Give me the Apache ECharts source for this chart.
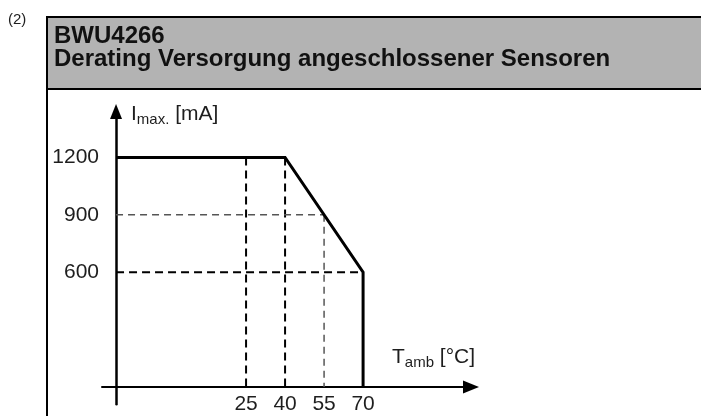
<!DOCTYPE html>
<html><head><meta charset="utf-8">
<script src="https://cdn.jsdelivr.net/npm/echarts@6/dist/echarts.min.js"></script>
<style>html,body{margin:0;padding:0;background:#fff}#c{width:701px;height:416px}</style>
</head><body><div id="c"></div>
<script>
// ---- data ----
const temps = [-25, 40, 70, 70];          // °C (y-axis sits at -25 °C)
const currents = [1200, 1200, 600, 0];    // mA
const xTicks = [25, 40, 55, 70];
const yTicks = [600, 900, 1200];
const guide25 = [[25, 1200], [25, 0]];
const guide40 = [[40, 1200], [40, 0]];
const guide55 = [[55, 900], [55, 0]];
const guide900 = [[-25, 900], [55, 900]];
const guide600 = [[-25, 600], [70, 600]];
const xOrigin = -25;
const xMin = -30.4, xMax = 111.5;
const yMin = -90, yMax = 1440;

const FONT = "'Liberation Sans', Arial, Helvetica, sans-serif";
const TXT = '#1e1e1e';

const chart = echarts.init(document.getElementById('c'), null, {renderer: 'canvas'});

function guide(data, color, width, dash) {
  return {
    type: 'line', data: data, symbol: 'none', silent: true, z: 2,
    lineStyle: {color: color, width: width, type: dash}
  };
}

chart.setOption({
  animation: false,
  backgroundColor: '#fff',
  grid: {left: 102, right: 230, top: 111.5, bottom: 11.75, containLabel: false, outerBoundsMode: 'none'},
  xAxis: [{
    type: 'value', min: xMin, max: xMax,
    axisLine: {show: true, onZero: true, symbol: ['none', 'triangle'], symbolSize: [13, 16],
      lineStyle: {color: '#000', width: 2}},
    axisTick: {show: false},
    splitLine: {show: false},
    axisLabel: {customValues: xTicks, margin: -11, fontSize: 21, color: TXT, fontFamily: FONT,
      formatter: v => String(v)}
  }, {
    type: 'value', min: xMin - xOrigin, max: xMax - xOrigin, show: false,
    axisLine: {onZero: false}, splitLine: {show: false}
  }],
  yAxis: {
    type: 'value', min: yMin, max: yMax,
    axisLine: {show: true, onZero: true, onZeroAxisIndex: 1, symbol: ['none', 'triangle'], symbolSize: [12, 15],
      lineStyle: {color: '#000', width: 2.5}},
    axisTick: {show: false},
    splitLine: {show: false},
    axisLabel: {customValues: yTicks, margin: 3, fontSize: 21, color: TXT, fontFamily: FONT,
      formatter: v => String(v)}
  },
  series: [
    guide(guide25, '#000', 2, [8, 5]),
    guide(guide40, '#000', 2, [8, 5]),
    guide(guide600, '#000', 2, [8, 5]),
    guide(guide900, '#555', 1.5, [7, 5]),
    guide(guide55, '#555', 1.5, [7, 5]),
    {
      type: 'line', data: temps.map((t, i) => [t, currents[i]]), symbol: 'none', z: 5,
      lineStyle: {color: '#000', width: 3, join: 'miter'}
    }
  ],
  graphic: [
    {type: 'rect', shape: {x: 47, y: 17, width: 700, height: 72},
      style: {fill: '#b3b3b3', stroke: '#000', lineWidth: 2}, z: 10},
    {type: 'line', shape: {x1: 47, y1: 17, x2: 47, y2: 420},
      style: {stroke: '#000', lineWidth: 2}, z: 10},
    {type: 'text', x: 8, y: 12, z: 11,
      style: {text: '(2)', font: '15px ' + FONT, fill: TXT}},
    {type: 'text', x: 54, y: 24.5, z: 11,
      style: {text: 'BWU4266\nDerating Versorgung angeschlossener Sensoren',
        font: 'bold 24px ' + FONT, lineHeight: 23.5, fill: '#111'}},
    {type: 'text', x: 131, y: 114, z: 11,
      style: {text: '{a|I}{s|max.}{a| [mA]}', verticalAlign: 'middle',
        rich: {a: {fontSize: 21, lineHeight: 27, fontFamily: FONT, fill: TXT},
               s: {fontSize: 15, lineHeight: 15, verticalAlign: 'bottom', fontFamily: FONT, fill: TXT}}}},
    {type: 'text', x: 392, y: 357, z: 11,
      style: {text: '{a|T}{s|amb}{a| [°C]}', verticalAlign: 'middle',
        rich: {a: {fontSize: 21, lineHeight: 27, fontFamily: FONT, fill: TXT},
               s: {fontSize: 15, lineHeight: 15, verticalAlign: 'bottom', fontFamily: FONT, fill: TXT}}}}
  ]
});
</script>
</body></html>
